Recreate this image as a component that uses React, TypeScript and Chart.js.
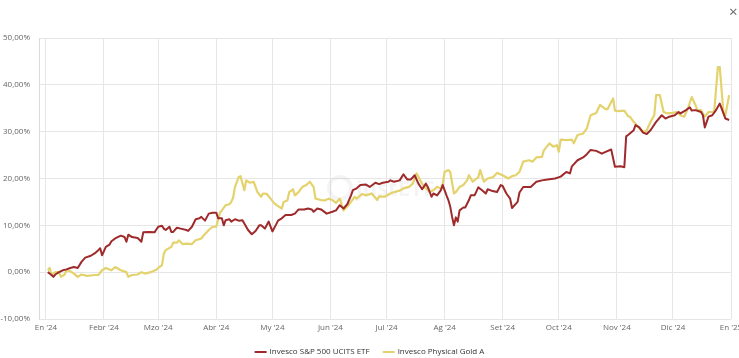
import React, { useEffect, useRef } from "react";
import { Chart, registerables } from "chart.js";

Chart.register(...registerables);

// ---- Data (days since 1 Jan 2024, performance in %) ----
const monthTickDays = [0, 31, 60, 91, 121, 152, 182, 213, 244, 274, 305, 335, 366];
const monthTickLabels = ["En '24", "Febr '24", "Mzo '24", "Abr '24", "My '24", "Jun '24", "Jul '24", "Ag '24", "Set '24", "Oct '24", "Nov '24", "Dic '24", "En '25"];
const yTickValues = [-10, 0, 10, 20, 30, 40, 50];
const seriesNames = ["Invesco S&P 500 UCITS ETF", "Invesco Physical Gold A"];
const seriesColors = ["#9e2a2b", "#e4d26c"];

const sp500Days = [
  1, 3, 4, 5, 7, 9, 11, 13, 15, 17,
  19, 21, 24, 26, 28, 29, 30, 32, 34, 35,
  37, 40, 42, 43, 44, 46, 49, 51, 52, 55,
  58, 60, 62, 63, 64, 66, 67, 68, 70, 72,
  75, 76, 78, 80, 82, 83, 85, 87, 89, 91,
  92, 94, 95, 96, 98, 99, 101, 103, 105, 107,
  108, 110, 112, 114, 115, 117, 119, 121, 123, 124,
  126, 128, 131, 133, 135, 138, 140, 142, 143, 145,
  147, 150, 153, 155, 157, 159, 161, 163, 164, 166,
  168, 171, 173, 176, 178, 180, 183, 184, 186, 189,
  191, 193, 195, 197, 199, 201, 203, 204, 206, 207,
  209, 211, 212, 214, 215, 216, 217, 218, 219, 220,
  221, 223, 224, 226, 227, 229, 231, 233, 235, 236,
  238, 241, 243, 244, 246, 248, 249, 252, 253, 255,
  259, 262, 265, 268, 272, 275, 278, 280, 281, 284,
  287, 289, 291, 294, 297, 299, 302, 304, 307, 309,
  310, 311, 314, 315, 317, 319, 321, 323, 324, 326,
  329, 331, 333, 336, 338, 339, 342, 344, 345, 347,
  350, 351, 352, 354, 356, 358, 360, 362, 363, 365,
];
const sp500Values = [
  0.0, -0.6, -1.0, -0.5, 0.0, 0.4, 0.6, 0.9, 1.1, 0.9,
  2.2, 3.1, 3.5, 4.0, 4.7, 5.1, 3.6, 5.4, 5.9, 6.6,
  7.2, 7.8, 7.5, 6.5, 8.0, 7.5, 7.3, 6.5, 8.5, 8.6,
  8.5, 9.7, 9.9, 9.3, 9.0, 9.7, 8.6, 8.6, 9.5, 9.3,
  9.0, 8.8, 9.7, 11.3, 11.5, 11.8, 11.0, 12.5, 12.7, 12.7,
  11.5, 11.5, 10.0, 11.1, 11.3, 10.8, 11.3, 11.0, 11.1, 9.7,
  9.0, 8.1, 8.8, 10.0, 10.0, 9.3, 10.8, 8.7, 10.2, 11.0,
  11.5, 12.2, 12.2, 12.5, 13.4, 13.4, 13.6, 13.4, 12.9, 13.6,
  13.4, 12.5, 12.9, 13.2, 14.3, 13.6, 14.5, 16.4, 17.5, 17.9,
  18.6, 18.7, 18.2, 19.1, 18.8, 19.1, 19.3, 19.6, 19.3, 19.6,
  20.9, 19.8, 19.8, 20.7, 18.9, 17.7, 18.9, 18.2, 16.1, 16.8,
  16.4, 17.5, 18.6, 16.4, 15.4, 14.0, 11.8, 10.0, 11.7, 10.8,
  13.2, 13.8, 13.8, 15.4, 16.4, 16.4, 18.1, 17.5, 16.8, 17.7,
  17.4, 17.1, 18.6, 18.4, 16.8, 15.7, 13.7, 15.0, 17.0, 18.2,
  18.2, 19.3, 19.6, 19.8, 20.0, 20.4, 21.4, 21.1, 22.6, 23.9,
  24.5, 25.2, 26.1, 25.9, 25.3, 25.7, 26.2, 22.5, 22.6, 22.4,
  29.0, 29.3, 30.3, 31.4, 30.9, 29.8, 29.5, 30.3, 30.9, 32.1,
  33.5, 32.8, 33.2, 33.5, 34.2, 33.9, 34.6, 35.2, 34.5, 34.6,
  34.2, 33.5, 30.9, 33.2, 33.5, 34.6, 36.0, 33.9, 32.8, 32.5,
];

const goldDays = [
  1, 2, 3, 5, 7, 8, 10, 11, 13, 15,
  17, 19, 22, 26, 28, 30, 32, 35, 37, 40,
  43, 44, 46, 49, 51, 53, 56, 59, 60, 62,
  63, 64, 67, 68, 70, 71, 73, 75, 78, 80,
  83, 84, 87, 89, 91, 93, 94, 96, 98, 99,
  100, 101, 103, 104, 106, 107, 109, 111, 113, 115,
  116, 118, 120, 122, 124, 126, 127, 129, 130, 132,
  133, 135, 137, 139, 141, 143, 144, 147, 149, 151,
  153, 155, 157, 159, 160, 163, 165, 166, 169, 171,
  174, 177, 178, 181, 184, 186, 189, 191, 194, 196,
  198, 200, 202, 203, 205, 207, 209, 211, 212, 213,
  215, 216, 218, 219, 221, 223, 225, 226, 228, 231,
  232, 234, 236, 239, 241, 244, 247, 249, 251, 253,
  255, 258, 260, 262, 265, 266, 269, 271, 273, 274,
  275, 278, 281, 282, 284, 287, 289, 291, 294, 296,
  299, 300, 303, 304, 306, 309, 311, 312, 314, 316,
  318, 320, 321, 323, 325, 326, 328, 330, 332, 335,
  337, 339, 341, 343, 345, 347, 348, 350, 352, 354,
  357, 359, 360, 362, 363, 365,
];
const goldValues = [
  0.4, 0.9, -0.6, 0.0, 0.0, -1.0, -0.5, 0.4, 0.2, -0.3,
  -1.0, -0.5, -0.8, -0.6, -0.6, 0.4, 0.9, 0.4, 1.1, 0.4,
  0.0, -1.0, -0.6, -0.5, 0.0, -0.3, 0.0, 0.5, 0.9, 1.5,
  4.0, 4.7, 5.4, 6.3, 6.3, 6.8, 6.0, 6.1, 6.0, 6.8,
  7.2, 7.7, 9.0, 9.7, 9.7, 12.7, 13.2, 14.3, 14.5, 15.0,
  15.9, 18.2, 20.3, 20.5, 17.5, 19.6, 19.1, 19.3, 17.1, 16.1,
  16.8, 16.7, 15.7, 14.7, 14.1, 13.6, 15.0, 15.3, 17.1, 17.7,
  16.4, 17.1, 18.2, 18.6, 19.3, 18.2, 15.7, 15.4, 15.3, 15.7,
  15.4, 14.8, 15.7, 13.2, 13.6, 15.0, 16.1, 15.7, 16.7, 16.4,
  16.8, 15.4, 16.2, 16.1, 16.8, 17.1, 17.4, 17.9, 18.2, 18.9,
  21.1, 19.6, 18.2, 17.9, 17.1, 17.5, 18.2, 17.9, 18.9, 21.4,
  21.8, 21.4, 16.8, 17.1, 18.2, 18.6, 19.6, 20.7, 19.3, 20.3,
  21.8, 19.3, 20.0, 20.3, 21.2, 20.7, 20.0, 20.5, 20.7, 21.4,
  23.6, 23.9, 23.6, 24.5, 24.6, 26.0, 27.5, 26.8, 27.1, 25.7,
  28.3, 28.2, 28.3, 27.5, 29.3, 29.6, 30.7, 33.5, 34.0, 35.7,
  34.8, 34.8, 37.1, 34.5, 34.4, 34.5, 33.3, 33.2, 32.1, 31.2,
  30.3, 30.0, 30.3, 32.1, 33.5, 37.8, 37.8, 34.2, 33.9, 34.0,
  34.2, 33.5, 33.2, 35.0, 37.4, 35.7, 34.6, 34.6, 33.2, 34.2,
  34.2, 43.8, 43.8, 33.9, 33.5, 37.8,
];

const FONT = "'Open Sans', 'Noto Sans', sans-serif";

const fmtPct = (v: number) => v.toFixed(2).replace(".", ",") + "%";

const legendPlugin = {
  id: "customLegend",
  afterDraw(chart: any) {
    const ctx = chart.ctx;
    ctx.save();
    ctx.font = `8px ${FONT}`;
    const lineW = 12;
    const gap = 3;
    const spacing = 13;
    const widths = seriesNames.map((n) => ctx.measureText(n).width);
    const total = widths.reduce((a, w) => a + lineW + gap + w, 0) + spacing * (seriesNames.length - 1);
    let x = chart.width / 2 - total / 2;
    const y = 352;
    seriesNames.forEach((name, i) => {
      ctx.fillStyle = seriesColors[i];
      ctx.fillRect(x, y - 1, lineW, 2);
      ctx.fillStyle = "#333333";
      ctx.textBaseline = "middle";
      ctx.textAlign = "left";
      ctx.fillText(name, x + lineW + gap, y);
      x += lineW + gap + widths[i] + spacing;
    });
    ctx.restore();
  },
};

const watermarkPlugin = {
  id: "watermark",
  beforeDatasetsDraw(chart: any) {
    const ctx = chart.ctx;
    ctx.save();
    ctx.fillStyle = "rgba(0,0,0,0.045)";
    ctx.strokeStyle = "rgba(0,0,0,0.045)";
    ctx.lineWidth = 4;
    ctx.beginPath();
    ctx.arc(340, 188, 11, 0, Math.PI * 2);
    ctx.stroke();
    ctx.font = `bold 22px ${FONT}`;
    ctx.textBaseline = "middle";
    ctx.textAlign = "left";
    ctx.fillText("justETF", 356, 190);
    ctx.restore();
  },
};

export default function App() {
  const canvasRef = useRef<HTMLCanvasElement | null>(null);

  useEffect(() => {
    if (!canvasRef.current) return;
    const chart = new Chart(canvasRef.current, {
      type: "line",
      data: {
        datasets: [
          {
            label: seriesNames[0],
            data: sp500Days.map((d, i) => ({ x: d, y: sp500Values[i] })),
            borderColor: seriesColors[0],
            backgroundColor: seriesColors[0],
            borderWidth: 2,
            pointRadius: 0,
            tension: 0,
            borderJoinStyle: "round",
          },
          {
            label: seriesNames[1],
            data: goldDays.map((d, i) => ({ x: d, y: goldValues[i] })),
            borderColor: seriesColors[1],
            backgroundColor: seriesColors[1],
            borderWidth: 2.2,
            pointRadius: 0,
            tension: 0,
            borderJoinStyle: "round",
          },
        ],
      },
      options: {
        animation: false,
        responsive: false,
        maintainAspectRatio: false,
        layout: { padding: { top: 38, right: 8, bottom: 0, left: 0 } },
        plugins: {
          legend: { display: false },
          tooltip: { enabled: false },
        },
        scales: {
          x: {
            type: "linear",
            min: -3.7,
            max: 366,
            afterBuildTicks: (s: any) => {
              s.ticks = monthTickDays.map((v) => ({ value: v }));
            },
            afterFit: (s: any) => {
              s.height = 39;
              s.paddingLeft = 0;
              s.paddingRight = 0;
            },
            ticks: {
              autoSkip: false,
              maxRotation: 0,
              padding: 4,
              color: "#666666",
              font: { family: FONT, size: 8 },
              callback: (v: any) => {
                const i = monthTickDays.indexOf(Number(v));
                return i >= 0 ? monthTickLabels[i] : "";
              },
            },
            grid: { color: "#e6e6e6", drawTicks: false, lineWidth: 1 },
            border: { display: false },
          },
          y: {
            type: "linear",
            min: -10,
            max: 50,
            afterBuildTicks: (s: any) => {
              s.ticks = yTickValues.map((v) => ({ value: v }));
            },
            afterFit: (s: any) => {
              s.width = 39;
              s.paddingTop = 0;
              s.paddingBottom = 0;
            },
            ticks: {
              padding: 9,
              color: "#666666",
              font: { family: FONT, size: 8 },
              callback: (v: any) => fmtPct(Number(v)),
            },
            grid: { color: "#e6e6e6", drawTicks: false, lineWidth: 1 },
            border: { display: true, color: "#d9d9d9" },
          },
        },
      },
      plugins: [watermarkPlugin, legendPlugin],
    });
    return () => chart.destroy();
  }, []);

  return (
    <div style={{ position: "absolute", left: 0, top: 0, width: 739, height: 358, background: "#fff", overflow: "hidden" }}>
      <canvas ref={canvasRef} width={739} height={358} style={{ display: "block", width: 739, height: 358 }} />
      <span
        style={{
          position: "absolute",
          left: 729,
          top: 1,
          fontFamily: FONT,
          fontSize: 15,
          color: "#666",
          lineHeight: "20px",
        }}
      >
        ×
      </span>
    </div>
  );
}
